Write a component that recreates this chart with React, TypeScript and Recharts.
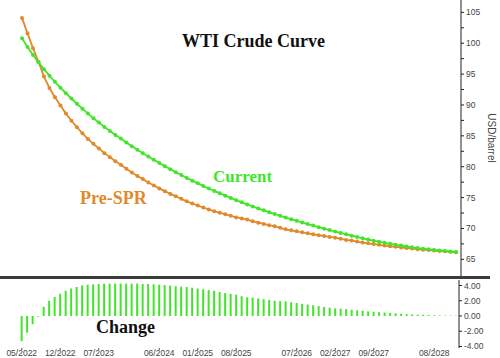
import { LineChart, Line, BarChart, Bar, XAxis, YAxis } from "recharts";

// monthly contracts, 05/2022 .. 12/2028
const months = [
  "05/2022", "06/2022", "07/2022", "08/2022", "09/2022", "10/2022", "11/2022", "12/2022",
  "01/2023", "02/2023", "03/2023", "04/2023", "05/2023", "06/2023", "07/2023", "08/2023", "09/2023", "10/2023", "11/2023", "12/2023",
  "01/2024", "02/2024", "03/2024", "04/2024", "05/2024", "06/2024", "07/2024", "08/2024", "09/2024", "10/2024", "11/2024", "12/2024",
  "01/2025", "02/2025", "03/2025", "04/2025", "05/2025", "06/2025", "07/2025", "08/2025", "09/2025", "10/2025", "11/2025", "12/2025",
  "01/2026", "02/2026", "03/2026", "04/2026", "05/2026", "06/2026", "07/2026", "08/2026", "09/2026", "10/2026", "11/2026", "12/2026",
  "01/2027", "02/2027", "03/2027", "04/2027", "05/2027", "06/2027", "07/2027", "08/2027", "09/2027", "10/2027", "11/2027", "12/2027",
  "01/2028", "02/2028", "03/2028", "04/2028", "05/2028", "06/2028", "07/2028", "08/2028", "09/2028", "10/2028", "11/2028", "12/2028",
];

const current = [
  100.8, 99.4, 98.1, 96.9, 95.8, 94.75, 93.75, 92.8, 91.9, 91.05,
  90.2, 89.4, 88.6, 87.85, 87.15, 86.45, 85.8, 85.15, 84.55, 83.93,
  83.33, 82.75, 82.19, 81.64, 81.11, 80.59, 80.09, 79.6, 79.12, 78.65,
  78.19, 77.74, 77.31, 76.89, 76.48, 76.08, 75.69, 75.31, 74.94, 74.58,
  74.23, 73.89, 73.56, 73.24, 72.93, 72.63, 72.34, 72.05, 71.77, 71.5,
  71.23, 70.97, 70.71, 70.46, 70.21, 69.97, 69.73, 69.5, 69.27, 69.05,
  68.83, 68.62, 68.41, 68.2, 68.02, 67.85, 67.68, 67.52, 67.37, 67.22,
  67.08, 66.95, 66.83, 66.72, 66.62, 66.52, 66.43, 66.35, 66.27, 66.2,
];

const preSpr = [
  104.1, 101.6, 99.2, 97.0, 94.6, 92.75, 91.25, 89.9, 88.6, 87.45,
  86.4, 85.4, 84.5, 83.7, 82.95, 82.2, 81.55, 80.9, 80.3, 79.68,
  79.08, 78.5, 77.99, 77.44, 76.96, 76.49, 76.04, 75.6, 75.22, 74.8,
  74.39, 74.04, 73.71, 73.39, 73.08, 72.78, 72.54, 72.31, 72.04, 71.78,
  71.63, 71.44, 71.16, 70.94, 70.73, 70.53, 70.34, 70.1, 69.87, 69.7,
  69.53, 69.37, 69.21, 69.06, 68.91, 68.77, 68.63, 68.5, 68.32, 68.15,
  68.03, 67.87, 67.71, 67.6, 67.47, 67.35, 67.23, 67.12, 67.02, 66.92,
  66.83, 66.75, 66.65, 66.57, 66.5, 66.42, 66.35, 66.29, 66.22, 66.16,
];

const change = [
  -3.3, -2.2, -1.1, -0.1, 1.2, 2.0, 2.5, 2.9, 3.3, 3.6,
  3.8, 4.0, 4.1, 4.15, 4.2, 4.25, 4.25, 4.25, 4.25, 4.25,
  4.25, 4.25, 4.2, 4.2, 4.15, 4.1, 4.05, 4.0, 3.9, 3.85,
  3.8, 3.7, 3.6, 3.5, 3.4, 3.3, 3.15, 3.0, 2.9, 2.8,
  2.6, 2.45, 2.4, 2.3, 2.2, 2.1, 2.0, 1.95, 1.9, 1.8,
  1.7, 1.6, 1.5, 1.4, 1.3, 1.2, 1.1, 1.0, 0.95, 0.9,
  0.8, 0.75, 0.7, 0.6, 0.55, 0.5, 0.45, 0.4, 0.35, 0.3,
  0.25, 0.2, 0.18, 0.15, 0.12, 0.1, 0.08, 0.06, 0.05, 0.04,
];

const monthTicks = ["05/2022", "12/2022", "07/2023", "06/2024", "01/2025", "08/2025", "07/2026", "02/2027", "09/2027", "08/2028"];
const priceTicks = [65, 67.5, 70, 72.5, 75, 77.5, 80, 82.5, 85, 87.5, 90, 92.5, 95, 97.5, 100, 102.5, 105];
const changeTicks = [-4, -2, 0, 2, 4];

const GREEN = "#42e52a";
const ORANGE = "#e08a2c";
const tickStyle = { fontSize: 8.5, fill: "#444", fontFamily: "Liberation Sans" };

const rows = months.map((m, i) => ({
  month: m,
  current: current[i],
  preSpr: preSpr[i],
  change: change[i],
}));

const serif = "'Liberation Serif', 'DejaVu Serif', serif";

export default function App() {
  return (
    <div style={{ position: "absolute", left: 0, top: 0, width: 500, height: 358, background: "#fff" }}>
      <LineChart width={500} height={276} data={rows} margin={{ top: 0, right: 0, bottom: 0, left: 22 }}>
        <XAxis dataKey="month" hide padding={{ left: 0, right: 5 }} />
        <YAxis
          orientation="right"
          domain={[62.3, 107]}
          ticks={priceTicks}
          interval={0}
          width={39}
          axisLine={{ stroke: "#222" }}
          tickLine={{ stroke: "#222" }}
          tickSize={3}
          tickMargin={2}
          tick={tickStyle}
          tickFormatter={(v: number) => (v % 5 === 0 ? String(v) : "")}
          label={{ value: "USD/barrel", angle: 90, position: "insideRight", dx: -3, style: { fontSize: 10, fill: "#444", fontFamily: "Liberation Sans", textAnchor: "middle" } }}
        />
        <Line dataKey="preSpr" stroke={ORANGE} strokeWidth={1.8} dot={{ r: 2, fill: ORANGE, stroke: "none" }} isAnimationActive={false} />
        <Line dataKey="current" stroke={GREEN} strokeWidth={1.8} dot={{ r: 2, fill: GREEN, stroke: "none" }} isAnimationActive={false} />
      </LineChart>
      <div style={{ width: 490, height: 3, background: "#3c3c3c" }} />
      <BarChart width={500} height={79} data={rows} margin={{ top: 1, right: 0, bottom: 0, left: 19 }} barCategoryGap="30%">
        <XAxis
          dataKey="month"
          ticks={monthTicks}
          interval={0}
          height={10}
          axisLine={false}
          tickLine={{ stroke: "#555" }}
          tickSize={2}
          tickMargin={0}
          tick={tickStyle}
        />
        <YAxis
          orientation="right"
          domain={[-4.2, 4.72]}
          ticks={changeTicks}
          interval={0}
          width={41}
          axisLine={{ stroke: "#222" }}
          tickLine={{ stroke: "#222" }}
          tickSize={3}
          tickMargin={2}
          tick={tickStyle}
          tickFormatter={(v: number) => v.toFixed(2)}
        />
        <Bar dataKey="change" fill={GREEN} isAnimationActive={false} />
      </BarChart>
      <div style={{ position: "absolute", left: 182, top: 32, fontFamily: serif, fontWeight: "bold", fontSize: 18, lineHeight: "18px", color: "#111", whiteSpace: "nowrap" }}>
        WTI Crude Curve
      </div>
      <div style={{ position: "absolute", left: 213, top: 168, fontFamily: serif, fontWeight: "bold", fontSize: 17, lineHeight: "17px", color: GREEN, whiteSpace: "nowrap" }}>
        Current
      </div>
      <div style={{ position: "absolute", left: 80, top: 189, fontFamily: serif, fontWeight: "bold", fontSize: 18, lineHeight: "18px", color: ORANGE, whiteSpace: "nowrap" }}>
        Pre-SPR
      </div>
      <div style={{ position: "absolute", left: 96, top: 318, fontFamily: serif, fontWeight: "bold", fontSize: 18, lineHeight: "18px", color: "#111", whiteSpace: "nowrap" }}>
        Change
      </div>
    </div>
  );
}
